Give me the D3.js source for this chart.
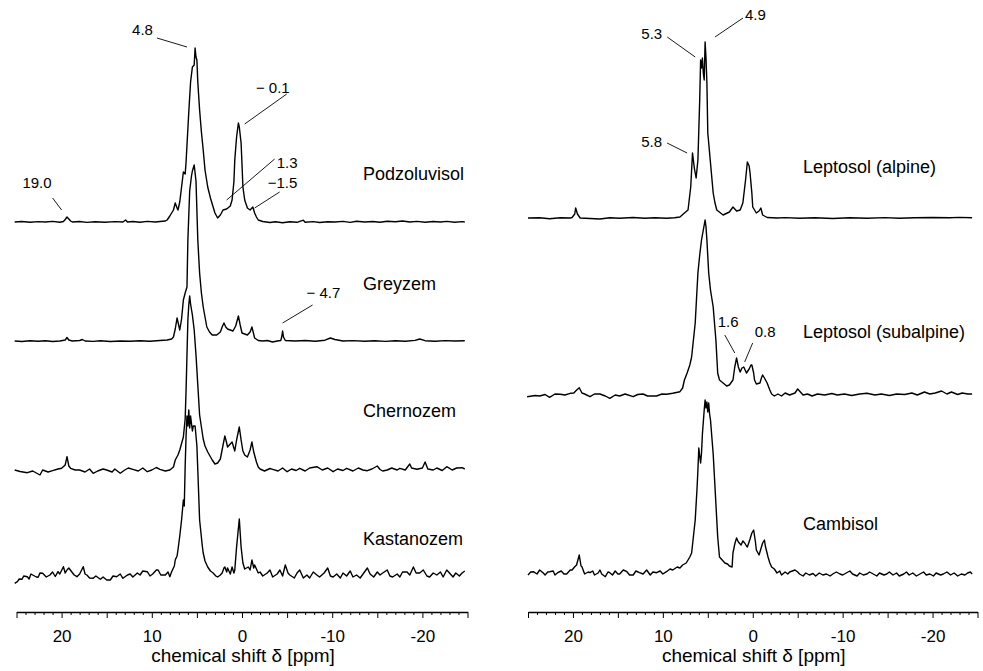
<!DOCTYPE html>
<html>
<head>
<meta charset="utf-8">
<script src="https://cdn.jsdelivr.net/npm/d3@7"></script>
<style>
    body {margin: 0; background: #fff;}
    svg {display: block;}
    text {font-family: "Liberation Sans", Arial, sans-serif; fill: #000;}
</style>
</head>
<body>
<svg id="chart" width="983" height="671"></svg>
<script>
// 31P NMR spectra, [chemical shift ppm, intensity a.u.]
const podzoluvisol = [[25.2,0],[24.4,0.5],[23.5,-0.3],[22.6,0.4],[21.8,0],[21.0,0.6],[20.2,-0.2],[19.8,0.5],[19.6,2.5],[19.4,5],[19.2,3],[19.0,1],[18.8,0],[18.0,0.5],[17.2,-0.4],[16.3,0.3],[15.2,-0.2],[14.1,0.4],[13.2,0],[12.9,2],[12.7,0],[12.1,0.5],[11.3,-0.2],[10.5,0.6],[9.6,0],[9.1,0.5],[8.5,1],[8.3,2],[8.0,6],[7.6,12],[7.4,19],[7.2,14],[7.1,12],[6.9,20],[6.7,35],[6.5,50],[6.3,48],[6.2,60],[5.9,110],[5.7,140],[5.5,155],[5.3,157],[5.2,174],[5.1,165],[5.0,162],[4.9,140],[4.7,112],[4.5,90],[4.3,72],[4.1,52],[3.8,35],[3.5,24],[3.2,15],[3.0,9],[2.7,4],[2.4,7],[2.1,12],[1.7,13],[1.3,16],[1.1,22],[0.9,40],[0.8,62],[0.6,85],[0.4,99],[0.3,95],[0.1,79],[0,58],[-0.1,35],[-0.3,22],[-0.6,14],[-0.9,12],[-1.2,15],[-1.4,9],[-1.6,5],[-1.8,2],[-2.3,0.5],[-3.1,-0.5],[-3.7,0.3],[-4.5,-0.8],[-5.3,0.2],[-6.1,-0.3],[-6.8,1.8],[-7.0,-0.2],[-7.9,0.4],[-8.6,-0.5],[-9.5,0.3],[-10.3,0],[-11.2,0.6],[-12.0,-0.4],[-12.7,0.8],[-13.6,0],[-14.5,0.5],[-15.3,-0.3],[-16.1,0.8],[-17.0,0.2],[-17.8,1.0],[-18.6,0],[-19.4,0.6],[-20.3,-0.3],[-21.2,0.5],[-22.0,0],[-22.7,0.6],[-23.6,-0.2],[-24.4,0.4],[-24.7,0]]

const greyzem = [[25.2,0],[24.4,-0.5],[23.5,0.3],[22.6,-0.3],[21.8,0.2],[21.0,-0.5],[20.2,0],[19.6,1],[19.4,3.5],[19.2,1],[18.8,0],[18.0,0.5],[17.7,1.5],[17.4,0],[16.5,-0.4],[15.7,0.3],[14.6,-0.5],[13.5,0],[12.4,-0.3],[11.3,0.2],[10.2,-0.3],[9.1,0.5],[8.3,1],[7.8,2],[7.6,4],[7.4,12],[7.2,23],[7.0,15],[6.9,11],[6.7,22],[6.5,41],[6.3,48],[6.1,54],[6.0,101],[5.8,150],[5.6,165],[5.5,170],[5.3,176],[5.2,168],[5.1,160],[4.9,101],[4.7,68],[4.5,48],[4.3,34],[3.9,14],[3.6,9],[3.3,6],[2.8,6],[2.4,9],[2.2,14],[2.0,18],[1.8,14],[1.6,12],[1.3,11],[1.0,10],[0.7,15],[0.4,25],[0.2,16],[0,8],[-0.3,7],[-0.6,6],[-0.9,9],[-1.1,14],[-1.4,3],[-1.8,0.5],[-2.3,0],[-2.8,0.5],[-3.4,-1],[-3.9,0],[-4.3,0.5],[-4.4,4],[-4.5,10],[-4.6,4],[-4.8,0.5],[-5.9,0],[-7.0,0.5],[-8.1,-0.3],[-9.2,0.8],[-9.8,3],[-10.3,1.5],[-11.2,0],[-12.3,0.4],[-13.6,-0.3],[-14.7,0.2],[-15.9,-0.4],[-17.0,0.3],[-18.1,-0.2],[-19.2,0.6],[-19.7,2],[-20.3,0.3],[-21.4,-0.2],[-22.5,0.4],[-23.6,0],[-24.7,0.3]]

const chernozem = [[25.2,0],[24.6,-1.5],[23.8,-2.7],[23.2,-1],[22.4,-5],[22.1,0],[21.5,-2],[21.0,-0.7],[20.4,1],[20.0,1.7],[19.6,5],[19.4,13.3],[19.2,4],[19.0,1.7],[18.5,0],[18.0,0],[17.4,-2],[16.9,1],[16.5,-3.3],[16.0,-1],[15.4,1],[15.0,0],[14.4,-2],[14.1,1],[13.5,-3.3],[13.0,0],[12.6,2],[12.1,0.7],[11.5,-1],[11.0,2],[10.5,-1.7],[10.0,0],[9.5,2.5],[9.1,0.7],[8.5,-1],[8.0,0],[7.6,3],[7.4,10],[7.1,15],[6.9,20],[6.5,33],[6.3,51],[6.2,80],[6.1,115],[6.0,150],[5.9,165],[5.8,174],[5.7,166],[5.5,155],[5.3,140],[5.1,115],[4.9,85],[4.7,55],[4.3,31],[4.1,24],[3.8,18],[3.3,10],[3.0,6],[2.7,7],[2.4,11],[2.1,25],[1.9,34],[1.7,27],[1.6,23],[1.3,26],[1.1,28],[0.9,22],[0.8,19],[0.6,30],[0.3,43],[0.1,30],[-0.1,19],[-0.3,15],[-0.6,13],[-0.9,20],[-1.1,28],[-1.3,18],[-1.6,8],[-1.8,3],[-2.0,1],[-2.5,-1],[-3.1,1.5],[-3.4,0.7],[-4.0,-1],[-4.5,2],[-5.0,-1.7],[-5.5,1],[-6.0,-0.5],[-6.4,1.7],[-7.0,-1],[-7.5,2],[-8.3,3.3],[-8.9,0],[-9.5,2],[-10.1,-1.7],[-10.6,1],[-11.2,-0.5],[-11.6,1.7],[-12.3,-1],[-12.9,2],[-13.4,0],[-13.9,-0.7],[-14.4,1],[-15.0,4],[-15.3,0.5],[-15.6,-1],[-16.1,0],[-16.6,2],[-17.2,0],[-17.5,1.7],[-18.1,0],[-18.6,6],[-18.8,2],[-19.4,0.7],[-20.0,2],[-20.3,8],[-20.6,1],[-21.2,0],[-21.6,2],[-22.2,-0.5],[-22.7,3.3],[-23.3,0],[-23.8,2],[-24.4,2.3],[-24.7,1]]

const kastanozem = [[25.2,-7.3],[24.9,-5.7],[24.7,-3],[24.4,-3.3],[24.2,0],[23.8,-0.7],[23.6,-3],[23.4,2],[23.2,1],[22.8,-1],[22.6,-1.3],[22.4,3],[22.1,2.7],[21.7,-1],[21.3,1],[21.0,4],[20.7,-0.5],[20.4,4.3],[20.2,2],[19.8,9.3],[19.6,3],[19.4,6],[19.2,8],[18.8,3.3],[18.6,1],[18.3,-0.7],[18.0,2],[17.6,9.3],[17.4,2],[17.2,1],[16.9,-2],[16.5,-2.3],[16.2,0],[15.7,-3.3],[15.4,-1],[15.0,-4],[14.6,-4],[14.3,0],[13.9,-0.7],[13.5,2],[13.2,-2.3],[12.7,1],[12.4,2],[12.1,-1],[11.6,3],[11.3,1],[11.0,5],[10.5,4.3],[10.2,0],[9.9,2],[9.5,6],[9.3,6],[9.0,1],[8.5,1],[8.2,4],[8.0,-0.7],[7.8,4.3],[7.5,10],[7.4,16],[7.2,20],[7.1,26],[6.9,40],[6.7,56],[6.5,76],[6.4,70],[6.3,110],[6.2,140],[6.1,160],[6.0,150],[5.9,166],[5.8,148],[5.7,160],[5.5,145],[5.4,150],[5.2,150],[5.0,130],[4.9,106],[4.7,56],[4.4,30],[4.3,23],[4.1,15],[3.8,9],[3.5,5],[3.2,3],[2.9,0],[2.7,-1],[2.4,1],[2.2,3],[2.0,8],[1.9,9],[1.7,4],[1.6,8],[1.3,2],[1.1,9],[0.9,3],[0.8,6],[0.6,29],[0.3,57],[0.1,29],[-0.1,13],[-0.3,7],[-0.7,9],[-0.9,6],[-1.1,16],[-1.3,8],[-1.4,11],[-1.8,3],[-2.0,4],[-2.3,0],[-2.8,3],[-3.1,6],[-3.4,-1],[-3.9,2],[-4.2,6],[-4.5,0],[-4.8,11],[-5.1,3],[-5.3,1],[-5.8,-2],[-6.1,3],[-6.4,6],[-6.8,-2],[-7.2,1],[-7.5,-2],[-7.9,4],[-8.3,1],[-8.6,-1],[-9.1,3],[-9.5,8],[-9.8,0],[-10.1,-1],[-10.5,2],[-10.9,-2],[-11.2,3],[-11.6,0],[-12.0,5],[-12.3,-1],[-12.7,1],[-13.1,-2],[-13.5,3],[-13.9,8],[-14.2,2],[-14.6,-1],[-15.0,4],[-15.3,1],[-15.6,3],[-16.1,6],[-16.4,0],[-16.7,-1],[-17.2,2],[-17.5,-1],[-17.8,4],[-18.3,4],[-18.6,1],[-19.0,9],[-19.3,3],[-19.7,3],[-20.1,6],[-20.5,0],[-20.8,-1],[-21.2,3],[-21.6,1],[-22.0,4],[-22.3,-1],[-22.7,6],[-23.1,2],[-23.4,-1],[-23.7,3],[-24.1,0],[-24.4,3],[-24.7,5]]

const leptosolAlpine = [[25.0,0],[23.7,0.3],[22.6,-0.7],[21.4,0.2],[20.3,0],[20.1,0.5],[19.8,4],[19.7,10],[19.5,4],[19.2,0],[18.1,-0.5],[17.0,-1],[15.9,0.2],[14.8,-0.3],[13.3,0.5],[12.0,-0.2],[10.9,0.3],[9.6,-0.3],[8.7,0.2],[8.1,1],[7.6,5],[7.2,8],[6.9,31],[6.7,65],[6.5,50],[6.3,40],[6.1,58],[5.9,118],[5.8,158],[5.7,150],[5.6,160],[5.5,145],[5.4,138],[5.3,176],[5.2,160],[5.1,135],[5.0,85],[4.8,65],[4.6,45],[4.4,25],[4.2,15],[4.0,8],[3.3,3],[2.6,6],[2.2,11],[1.8,7],[1.4,8],[1.1,15],[0.8,38],[0.6,56],[0.4,52],[0.3,45],[0.1,25],[0,11],[-0.4,5],[-0.7,7],[-0.9,10],[-1.1,3],[-1.6,0.5],[-2.7,0],[-3.6,0.4],[-5.2,-0.2],[-6.9,0.3],[-8.9,-0.5],[-10.8,0.2],[-12.7,-0.3],[-14.7,0.4],[-16.3,-0.3],[-18.0,0.2],[-20.0,0.5],[-21.9,0.2],[-23.0,0.6],[-24.4,0.3]]

const leptosolSubalpine = [[25.1,-1.7],[24.2,-0.5],[23.7,-1],[23.1,0.5],[22.6,-2.3],[22.0,1],[21.4,0.7],[20.9,0],[20.3,1.7],[19.9,2],[19.7,4],[19.3,7.3],[19.0,2],[18.7,1],[18.1,-1.7],[17.6,1],[17.0,1],[16.4,-1],[15.9,-3.3],[15.3,0],[14.8,-1],[14.2,1],[13.3,-1.7],[12.8,0.5],[12.2,1],[11.7,-1],[10.7,-1],[10.1,1],[9.6,0.7],[8.9,1.7],[8.1,3.3],[7.8,7],[7.6,15],[7.3,22],[7.0,30],[6.8,38],[6.4,72],[6.1,122],[5.9,140],[5.7,155],[5.4,170],[5.3,175],[5.2,168],[5.1,155],[4.9,122],[4.7,105],[4.4,88],[4.1,55],[3.9,22],[3.7,15],[3.3,12],[2.9,9],[2.6,10],[2.2,15],[2.0,28],[1.8,37],[1.6,28],[1.4,23],[1.2,27],[1.0,28],[0.8,24],[0.7,22],[0.4,26],[0.2,30],[0.1,30],[-0.1,22],[-0.2,15],[-0.4,11],[-0.8,12],[-1.0,18],[-1.1,20],[-1.3,17],[-1.6,12],[-1.9,5],[-2.1,1],[-2.4,-1],[-2.8,1],[-3.2,-1],[-3.6,2],[-4.1,0],[-4.7,2],[-5.0,6],[-5.2,4],[-5.6,0],[-6.1,1],[-6.6,-1],[-7.2,1],[-8.0,0],[-8.8,1.5],[-9.4,0],[-10.2,1],[-11.0,-0.5],[-11.9,1],[-12.7,1.7],[-13.6,0],[-14.3,1],[-15.2,-0.5],[-16.0,1],[-16.9,0.5],[-17.7,2],[-18.3,0],[-19.1,3],[-19.7,1],[-20.3,2],[-21.0,4],[-21.6,1],[-22.1,3],[-22.8,0.5],[-23.3,2],[-23.9,1],[-24.4,1]]

const cambisol = [[25.0,-1],[24.7,2],[24.4,2.3],[24.0,0],[23.7,4],[23.3,1],[23.1,-1],[22.8,2],[22.6,2.3],[22.2,3],[22.0,-1],[21.7,1.3],[21.3,3],[21.0,0],[20.7,0],[20.3,4],[20.1,4],[19.8,7.3],[19.6,9],[19.3,19],[19.1,8],[19.0,7.3],[18.7,0],[18.3,2],[18.1,1.3],[17.8,3],[17.6,-1],[17.2,1],[17.0,4],[16.8,0],[16.4,-2.7],[16.1,2],[15.9,1.3],[15.6,-1],[15.3,3],[15.0,0],[14.8,0],[14.4,4],[14.0,2.3],[13.7,-1],[13.3,-1],[13.0,3],[12.6,1.3],[12.2,0],[11.8,4],[11.4,-1],[11.1,2],[10.7,1.3],[10.3,3],[10.0,0],[9.6,2.3],[9.2,5],[8.9,4],[8.4,7],[8.1,6],[7.8,9],[7.4,11],[7.2,14],[7.0,17],[6.8,21],[6.4,54],[6.2,85],[6.1,104],[6.0,126],[5.9,118],[5.8,111],[5.7,121],[5.6,140],[5.4,164],[5.3,174],[5.2,166],[5.1,172],[5.0,162],[4.9,171],[4.8,160],[4.7,154],[4.4,120],[4.2,87],[3.9,37],[3.7,17],[3.4,14],[3.1,11],[2.8,10],[2.6,8],[2.3,7],[2.2,21],[2.0,30],[1.8,36],[1.6,32],[1.3,29],[1.1,33],[0.9,31],[0.7,28],[0.6,27],[0.3,35],[0.1,41],[-0.1,44],[-0.3,32],[-0.4,24],[-0.7,19],[-0.9,25],[-1.1,31],[-1.3,34],[-1.4,28],[-1.7,17],[-1.9,11],[-2.1,7],[-2.4,5],[-2.7,1],[-3.0,3],[-3.2,-1],[-3.6,2],[-3.9,0],[-4.1,2],[-4.4,3],[-4.7,4],[-5.0,2],[-5.2,0],[-5.6,-2],[-5.9,1],[-6.3,-1],[-6.7,0.5],[-7.0,-2],[-7.4,1],[-7.8,-1],[-8.2,0],[-8.6,-2],[-8.9,0],[-9.3,2],[-9.7,0],[-10.0,-1],[-10.4,1],[-10.8,3],[-11.1,0],[-11.6,-2],[-11.9,1],[-12.3,-1],[-12.7,0],[-13.0,2],[-13.4,0],[-13.8,-2],[-14.1,1],[-14.6,-1],[-14.9,0],[-15.2,2],[-15.6,-1],[-16.0,1],[-16.3,-2],[-16.8,0],[-17.1,2],[-17.4,-1],[-17.8,1],[-18.2,-2],[-18.6,0],[-19.0,2],[-19.3,-1],[-19.7,0],[-20.1,-2],[-20.4,1],[-20.9,-1],[-21.2,0],[-21.6,2],[-22.0,-1],[-22.4,1],[-22.8,-2],[-23.2,0],[-23.6,-1],[-23.9,1],[-24.2,2],[-24.4,0]]

const leftNames = ["Podzoluvisol", "Greyzem", "Chernozem", "Kastanozem"]
const rightNames = ["Leptosol (alpine)", "Leptosol (subalpine)", "Cambisol"]
// vertical stacking offsets of the traces (same a.u. as intensity)
const leftOffsets = [378, 259, 130, 24]
const rightOffsets = [382, 205, 26]

// peak labels: text, trace index, ppm and intensity where the leader line ends
const leftPeakText = ["4.8", "\u2212 0.1", "1.3", "\u22121.5", "19.0", "\u2212 4.7"]
const leftPeakTrace = [0, 0, 0, 0, 0, 1]
const leftPeakPpm = [6.1, -0.3, 1.7, -1.4, 20.0, -4.5]
const leftPeakInt = [175, 98, 22, 14, 12, 18]
const rightPeakText = ["4.9", "5.3", "5.8", "1.6", "0.8"]
const rightPeakTrace = [0, 0, 0, 1, 1]
const rightPeakPpm = [4.2, 6.4, 7.3, 2.0, 0.9]
const rightPeakInt = [181, 161, 65, 42, 33]

const tickValues = d3.range(-25, 26, 1)
const axisTitle = "chemical shift \u03b4 [ppm]"

// ---- layout ----
const svg = d3.select("#chart")
const axisY = 612
const y = d3.scaleLinear().domain([0, 600]).range([600, 0])

// leader geometry: [line dx, line dy, text dx, text dy, anchor]
const leftLeaders = [[-30, -9, -4, -3, "end"], [42, -30, 3, -1, "end"], [48, -41, 2, 9, "start"],
    [25, -16, -12, -4, "start"], [-9, -12, -1, -10, "end"], [30, -18, -6, -7, "start"]]
const rightLeaders = [[28, -19, 2, 2, "start"], [-28, -20, -5, 2, "end"], [-20, -10, -5, 4, "end"],
    [-10, -18, -7, -8, "start"], [8, -19, 2, -6, "start"]]

const panels = [
    {traces: [podzoluvisol, greyzem, chernozem, kastanozem], names: leftNames, offsets: leftOffsets,
        range: [16.5, 467.5], nameX: 363, nameLift: [42, 51, 53, 31],
        peaks: leftPeakText.map((t, i) => ({text: t, trace: leftPeakTrace[i], ppm: leftPeakPpm[i], int: leftPeakInt[i], lay: leftLeaders[i]}))},
    {traces: [leptosolAlpine, leptosolSubalpine, cambisol], names: rightNames, offsets: rightOffsets,
        range: [528, 977.5], nameX: 803, nameLift: [45, 57, 44],
        peaks: rightPeakText.map((t, i) => ({text: t, trace: rightPeakTrace[i], ppm: rightPeakPpm[i], int: rightPeakInt[i], lay: rightLeaders[i]}))}
]

panels.forEach(p => {
    const x = d3.scaleLinear().domain([25, -25]).range(p.range)
    const g = svg.append("g")

    p.traces.forEach((tr, i) => {
        const off = p.offsets[i]
        const line = d3.line()
            .x(d => x(d[0]))
            .y(d => y(off + d[1]))
        g.append("path")
            .datum(tr)
            .attr("d", line)
            .attr("fill", "none")
            .attr("stroke", "#000")
            .attr("stroke-width", 1.4)
            .attr("stroke-linejoin", "round")

        g.append("text")
            .attr("x", p.nameX)
            .attr("y", y(off) - p.nameLift[i])
            .style("font-size", "18px")
            .text(p.names[i])
    })

    // peak assignments with leader lines
    p.peaks.forEach(pk => {
        const ex = x(pk.ppm)
        const ey = y(p.offsets[pk.trace] + pk.int)
        const [ldx, ldy, tdx, tdy, anchor] = pk.lay
        g.append("line")
            .attr("x1", ex + ldx).attr("y1", ey + ldy)
            .attr("x2", ex).attr("y2", ey)
            .attr("stroke", "#000")
            .attr("stroke-width", 0.9)
        g.append("text")
            .attr("x", ex + ldx + tdx)
            .attr("y", ey + ldy + tdy)
            .attr("text-anchor", anchor)
            .style("font-size", "15px")
            .text(pk.text)
    })

    // x axis
    const ax = g.append("g")
        .attr("transform", "translate(0," + axisY + ")")
        .call(d3.axisBottom(x)
            .tickValues(tickValues)
            .tickSize(3)
            .tickSizeOuter(0)
            .tickPadding(15)
            .tickFormat(d => d % 10 === 0 ? String(d) : ""))
    ax.select(".domain").attr("stroke-width", 1.4)
    ax.selectAll(".tick line")
        .attr("y2", d => d % 5 === 0 ? 6 : 3)
        .attr("stroke-width", 1)
    ax.selectAll(".tick text")
        .style("font-size", "17px")
        .style("font-family", "'Liberation Sans', Arial, sans-serif")

    g.append("text")
        .attr("x", (p.range[0] + p.range[1]) / 2 + 1)
        .attr("y", 662)
        .attr("text-anchor", "middle")
        .style("font-size", "19px")
        .text(axisTitle)
})
</script>
</body>
</html>
